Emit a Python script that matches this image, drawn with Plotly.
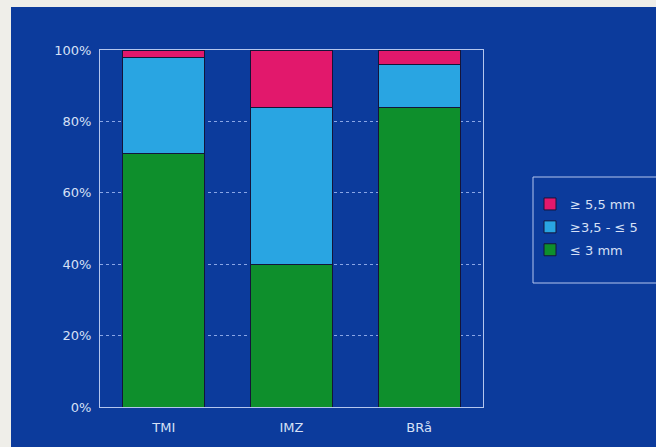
import plotly.graph_objects as go

categories = ["TMI", "IMZ", "BRå"]
small = [71, 40, 84]        # ≤ 3 mm
medium = [27, 44, 12]       # ≥3,5 - ≤ 5
large = [2, 16, 4]          # ≥ 5,5 mm
series_names = ["≤ 3 mm", "≥3,5 - ≤ 5", "≥ 5,5 mm"]
series_colors = ["#0e8f2c", "#29a5e2", "#e2186c"]
legend_ranks = [3, 2, 1]
ytick_vals = [0, 20, 40, 60, 80, 100]
ytick_text = ["0%", "20%", "40%", "60%", "80%", "100%"]

W, H = 656, 447
L, R, T, B = 100, 483, 50, 407
pw, ph = R - L, B - T

def px(x):
    return (x - L) / pw

def py(y):
    return (B - y) / ph

BLUE = "#0c3b9c"
LIGHT = "#b4c6ee"
TXT = "#d6e0f6"
FONT = "DejaVu Sans, Verdana, sans-serif"

fig = go.Figure()
for i, (name, vals, col, rk) in enumerate(zip(series_names, [small, medium, large], series_colors, legend_ranks)):
    fig.add_trace(go.Bar(
        x=categories, y=vals, name=name, legendgroup=f"g{i}", legendrank=rk,
        marker=dict(color=col, line=dict(color="#14143a", width=1)),
        width=0.64,
    ))

fig.update_layout(
    width=W, height=H,
    barmode="stack",
    paper_bgcolor="#efeee9",
    plot_bgcolor=BLUE,
    margin=dict(l=L, r=W - R, t=T, b=H - B, autoexpand=False),
    font=dict(family=FONT, size=13, color=TXT),
    showlegend=True,
    legend=dict(
        x=px(530), y=py(189), xanchor="left", yanchor="top",
        bgcolor="rgba(0,0,0,0)", borderwidth=0,
        traceorder="grouped", tracegroupgap=3,
        font=dict(family=FONT, size=13, color=TXT),
    ),
    xaxis=dict(
        range=[-0.5, 2.5], showgrid=False, showline=True, mirror=True,
        linecolor=LIGHT, linewidth=1, ticks="", ticklabelstandoff=8,
        tickfont=dict(family=FONT, size=13, color=TXT),
        zeroline=False,
    ),
    yaxis=dict(
        range=[0, 100], tickvals=ytick_vals, ticktext=ytick_text,
        showgrid=True, gridcolor="#8aa6e6", griddash="dot", gridwidth=1,
        showline=True, mirror=True, linecolor=LIGHT, linewidth=1,
        ticks="", ticklabelstandoff=5, zeroline=False,
        tickfont=dict(family=FONT, size=13, color=TXT),
    ),
    shapes=[
        dict(type="rect", xref="paper", yref="paper", layer="below",
             x0=px(11), x1=px(660), y0=py(450), y1=py(7),
             fillcolor=BLUE, line=dict(width=0)),
        dict(type="rect", xref="paper", yref="paper", layer="above",
             x0=px(533), x1=px(662), y0=py(283), y1=py(177),
             fillcolor="rgba(0,0,0,0)", line=dict(color=LIGHT, width=1)),
    ],
)

fig.write_html("out.html")
